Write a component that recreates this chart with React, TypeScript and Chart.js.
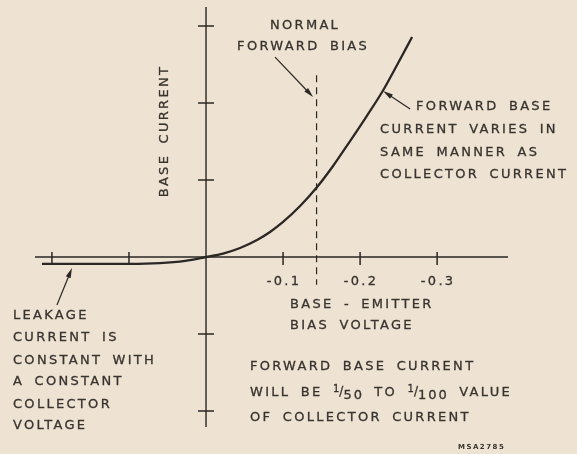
import React, { useEffect, useRef } from 'react';
import { Chart, registerables } from 'chart.js';

Chart.register(...registerables);

// Base-emitter bias voltage (V, negative = forward bias) and base current (relative units)
const biasVoltage = [0.213, 0.164, 0.099, 0.06, 0.027, 0, -0.0221, -0.0442, -0.0662, -0.0831, -0.1, -0.1221, -0.1442, -0.1649, -0.187, -0.2078, -0.2286, -0.248, -0.2675];
const baseCurrent = [-0.09, -0.09, -0.09, -0.08, -0.05, 0, 0.045, 0.117, 0.221, 0.325, 0.455, 0.662, 0.909, 1.182, 1.506, 1.818, 2.143, 2.494, 2.857];

// Normal forward bias marker
const normalBias = -0.1435;
const normalBiasSpan = [2.36, -0.36];

// Axis ticks
const xTicks = [0.2, 0.1, -0.1, -0.2, -0.3];
const xTickLabels = ['', '', '-0.1', '-0.2', '-0.3'];
const yTicks = [3, 2, 1, -1, -2];

// Axis extents
const xRange = [-0.392, 0.222];
const yRange = [-2.208, 3.247];

const PAPER = '#eee3d2';
const INK = '#2b2725';
const TEXT = '#38332f';
const FONT = '"DejaVu Sans"';
const SIZE = 13;
const SPACING = '2.3px';
const WORDSPACING = '4px';

type Seg = { t: string; s: number; dy: number; ls: number };

const textLines: { text: string; x: number; y: number; align: CanvasTextAlign }[] = [
  { text: 'NORMAL', x: -0.1286, y: 3.0, align: 'center' },
  { text: 'FORWARD BIAS', x: -0.126, y: 2.727, align: 'center' },
  { text: 'FORWARD BASE', x: -0.2727, y: 1.95, align: 'left' },
  { text: 'CURRENT VARIES IN', x: -0.226, y: 1.649, align: 'left' },
  { text: 'SAME MANNER AS', x: -0.226, y: 1.351, align: 'left' },
  { text: 'COLLECTOR CURRENT', x: -0.226, y: 1.065, align: 'left' },
  { text: 'LEAKAGE', x: 0.2506, y: -0.766, align: 'left' },
  { text: 'CURRENT IS', x: 0.2506, y: -1.052, align: 'left' },
  { text: 'CONSTANT WITH', x: 0.2506, y: -1.351, align: 'left' },
  { text: 'A CONSTANT', x: 0.2506, y: -1.623, align: 'left' },
  { text: 'COLLECTOR', x: 0.2506, y: -1.922, align: 'left' },
  { text: 'VOLTAGE', x: 0.2506, y: -2.195, align: 'left' },
  { text: 'BASE - EMITTER', x: -0.109, y: -0.623, align: 'left' },
  { text: 'BIAS VOLTAGE', x: -0.109, y: -0.896, align: 'left' },
  { text: 'FORWARD BASE CURRENT', x: -0.0571, y: -1.429, align: 'left' },
  { text: 'OF COLLECTOR CURRENT', x: -0.0571, y: -2.091, align: 'left' },
];

const fractionLine: Seg[] = [
  { t: 'WILL BE ', s: 13, dy: 0, ls: 2.3 },
  { t: '1', s: 10, dy: -4, ls: 0 },
  { t: '/', s: 12, dy: -1, ls: 0 },
  { t: '50', s: 13, dy: 3, ls: 2 },
  { t: ' TO ', s: 13, dy: 0, ls: 2.3 },
  { t: '1', s: 10, dy: -4, ls: 0 },
  { t: '/', s: 12, dy: -1, ls: 0 },
  { t: '100', s: 13, dy: 3, ls: 2 },
  { t: ' VALUE', s: 13, dy: 0, ls: 2.3 },
];
const fractionPos = { x: -0.0571, y: -1.766 };

const arrows = [
  { from: { x: -0.0896, y: 2.597 }, to: { x: -0.139, y: 2.078 } },
  { from: { x: -0.265, y: 1.922 }, to: { x: -0.2299, y: 2.156 } },
  { from: { x: 0.1935, y: -0.623 }, to: { x: 0.174, y: -0.143 } },
];

const yTitle = { text: 'BASE CURRENT', x: 0.0532, y: 1.636 };
const code = { text: 'MSA2785', x: -0.327, y: -2.468 };

function inkText(ctx: CanvasRenderingContext2D, t: string, x: number, y: number) {
  ctx.fillText(t, x, y);
  ctx.strokeText(t, x, y);
}

const drawPlugin = {
  id: 'drawing',
  beforeDatasetsDraw(chart: any) {
    const ctx: CanvasRenderingContext2D = chart.ctx;
    const xs = chart.scales.x;
    const ys = chart.scales.y;
    const x0 = xs.getPixelForValue(0);
    const y0 = ys.getPixelForValue(0);
    const area = chart.chartArea;
    ctx.save();
    ctx.strokeStyle = INK;
    ctx.lineWidth = 1.4;
    ctx.beginPath();
    ctx.moveTo(area.left, y0);
    ctx.lineTo(area.right, y0);
    ctx.moveTo(x0, area.top);
    ctx.lineTo(x0, area.bottom);
    ctx.stroke();
    ctx.lineWidth = 1.5;
    ctx.beginPath();
    xTicks.forEach((v) => {
      const px = xs.getPixelForValue(v);
      ctx.moveTo(px, y0 - 5);
      ctx.lineTo(px, y0 + 8);
    });
    yTicks.forEach((v) => {
      const py = ys.getPixelForValue(v);
      ctx.moveTo(x0 - 8, py);
      ctx.lineTo(x0 + 8, py);
    });
    ctx.stroke();
    // tick labels
    ctx.fillStyle = TEXT;
    ctx.strokeStyle = TEXT;
    ctx.lineWidth = 0.3;
    ctx.font = `${SIZE}px ${FONT}`;
    (ctx as any).letterSpacing = SPACING;
    ctx.textAlign = 'center';
    ctx.textBaseline = 'middle';
    xTicks.forEach((v, i) => {
      if (!xTickLabels[i]) return;
      inkText(ctx, xTickLabels[i], xs.getPixelForValue(v) + 1, y0 + 25);
    });
    ctx.restore();
  },
  afterDatasetsDraw(chart: any) {
    const ctx: CanvasRenderingContext2D = chart.ctx;
    const xs = chart.scales.x;
    const ys = chart.scales.y;
    ctx.save();
    ctx.fillStyle = TEXT;
    ctx.strokeStyle = TEXT;
    ctx.lineWidth = 0.3;
    ctx.textBaseline = 'middle';
    ctx.font = `${SIZE}px ${FONT}`;
    (ctx as any).letterSpacing = SPACING;
    (ctx as any).wordSpacing = WORDSPACING;
    textLines.forEach((l) => {
      ctx.textAlign = l.align;
      inkText(ctx, l.text, xs.getPixelForValue(l.x), ys.getPixelForValue(l.y));
    });
    // fraction line
    ctx.textAlign = 'left';
    let cx = xs.getPixelForValue(fractionPos.x);
    const cy = ys.getPixelForValue(fractionPos.y);
    fractionLine.forEach((sg) => {
      ctx.font = `${sg.s}px ${FONT}`;
      (ctx as any).letterSpacing = `${sg.ls}px`;
      inkText(ctx, sg.t, cx, cy + sg.dy);
      cx += ctx.measureText(sg.t).width;
    });
    // y title
    ctx.save();
    ctx.font = `${SIZE}px ${FONT}`;
    (ctx as any).letterSpacing = SPACING;
    ctx.translate(xs.getPixelForValue(yTitle.x), ys.getPixelForValue(yTitle.y));
    ctx.rotate(-Math.PI / 2);
    ctx.textAlign = 'center';
    inkText(ctx, yTitle.text, 0, 0);
    ctx.restore();
    // code
    (ctx as any).wordSpacing = '0px';
    ctx.font = `bold 7px ${FONT}`;
    (ctx as any).letterSpacing = '1.5px';
    ctx.textAlign = 'left';
    ctx.fillText(code.text, xs.getPixelForValue(code.x), ys.getPixelForValue(code.y));
    // arrows
    ctx.strokeStyle = INK;
    ctx.fillStyle = INK;
    ctx.lineWidth = 1.2;
    arrows.forEach((a) => {
      const fx = xs.getPixelForValue(a.from.x);
      const fy = ys.getPixelForValue(a.from.y);
      const tx = xs.getPixelForValue(a.to.x);
      const ty = ys.getPixelForValue(a.to.y);
      const ang = Math.atan2(ty - fy, tx - fx);
      const hl = 10;
      const hw = 2.6;
      ctx.beginPath();
      ctx.moveTo(fx, fy);
      ctx.lineTo(tx - hl * Math.cos(ang) * 0.8, ty - hl * Math.sin(ang) * 0.8);
      ctx.stroke();
      ctx.beginPath();
      ctx.moveTo(tx, ty);
      ctx.lineTo(tx - hl * Math.cos(ang) - hw * Math.sin(ang), ty - hl * Math.sin(ang) + hw * Math.cos(ang));
      ctx.lineTo(tx - hl * Math.cos(ang) + hw * Math.sin(ang), ty - hl * Math.sin(ang) - hw * Math.cos(ang));
      ctx.closePath();
      ctx.fill();
    });
    ctx.restore();
  },
};

export default function App() {
  const ref = useRef<HTMLCanvasElement>(null);
  useEffect(() => {
    if (!ref.current) return;
    const chart = new Chart(ref.current, {
      type: 'line',
      data: {
        datasets: [
          {
            data: biasVoltage.map((v, i) => ({ x: v, y: baseCurrent[i] })),
            borderColor: INK,
            borderWidth: 2.3,
            pointRadius: 0,
            cubicInterpolationMode: 'monotone',
            fill: false,
            clip: false,
          } as any,
          {
            data: normalBiasSpan.map((y) => ({ x: normalBias, y })),
            borderColor: INK,
            borderWidth: 1.2,
            borderDash: [7, 5],
            pointRadius: 0,
            fill: false,
            clip: false,
          } as any,
        ],
      },
      options: {
        animation: false,
        responsive: false,
        maintainAspectRatio: false,
        layout: { padding: { left: 35, right: 69, top: 7, bottom: 27 } },
        scales: {
          x: { type: 'linear', reverse: true, min: xRange[0], max: xRange[1], display: false },
          y: { type: 'linear', min: yRange[0], max: yRange[1], display: false },
        },
        plugins: { legend: { display: false }, tooltip: { enabled: false } },
      },
      plugins: [drawPlugin],
    });
    return () => chart.destroy();
  }, []);
  return (
    <div style={{ position: 'absolute', left: 0, top: 0, width: 577, height: 454, background: PAPER }}>
      <canvas ref={ref} width={577} height={454} />
    </div>
  );
}
